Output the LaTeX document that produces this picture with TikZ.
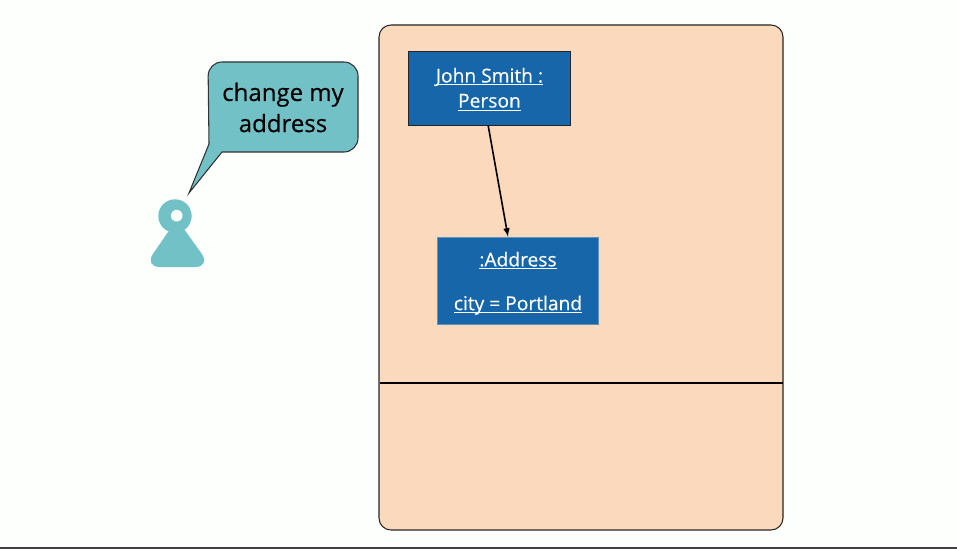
\documentclass[tikz,border=0pt]{standalone}
\usepackage{fontspec}
\setmainfont{Open Sans}
\newfontfamily\heavyfont[FakeBold=0.35]{Open Sans}
\newcommand{\ulabel}[1]{\leavevmode\setbox0\hbox{#1}\rlap{\rule[-2.2pt]{\wd0}{0.7pt}}\box0}
\usetikzlibrary{positioning}
\definecolor{paper}{HTML}{FCFFFB}
\definecolor{panelfill}{HTML}{FBD9BC}
\definecolor{objfill}{HTML}{1666A9}
\definecolor{tealfill}{HTML}{72C1C6}
\begin{document}
\begin{tikzpicture}[x=0.75pt, y=-0.75pt,
                obj/.style={fill=objfill, anchor=center},
                objtext/.style={text=white, align=center, font=\heavyfont\fontsize{14.4}{18.8}\selectfont},
                panel/.style={draw=black!85, fill=panelfill, rounded corners=9pt, line width=0.8pt, minimum width=303pt, minimum height=378.75pt},
                arr/.style={-latex, line width=1.2pt, black}]
                \useasboundingbox (0,0) rectangle (957,549);
                \fill[paper] (0,0) rectangle (957,549);
                \fill[black!75] (0,547) rectangle (957,549);

                % Panel
                \node[panel] (store) at (581,277.5) {};
                \coordinate (cutL) at (380,383);
                \coordinate (cutR) at (783,383);
                \draw[line width=1.1pt, black] (cutL) -- (cutR);

                % Objects
                \node[obj, draw=black!85, line width=0.7pt, minimum width=122pt, minimum height=55.5pt,
                      label={[name=johnlbl, objtext, yshift=-0.9pt]center:\ulabel{John Smith :}\\\ulabel{Person}}] (john) at (489.5,88) {};
                \node[obj, draw=objfill!70!white, line width=0.4pt, minimum width=121pt, minimum height=65.25pt,
                      label={[name=addrlbl, objtext, yshift=-2.1pt]center:\ulabel{:Address}\\[14pt]\ulabel{city = Portland}}] (addr) at (518,280.5) {};
                \draw[arr] ([xshift=-1pt]john.south) -- ([xshift=-7.5pt]addr.north);

                % Speech bubble
                \draw[fill=tealfill, draw=black!80, line width=0.8pt, rounded corners=10.5pt]
                    (283,62) -- (358,62) -- (358,152) [sharp corners] -- (222,152) -- (189,193) -- (209,144) [rounded corners=10.5pt] -- (208,62) -- cycle;
                \node[font=\heavyfont\fontsize{18}{23.3}\selectfont, align=center, text=black] (say) at (283,107.5) {change my\\address};

                % Person
                \fill[tealfill, rounded corners=12pt] (177,219) -- (211,267) -- (144,267) -- cycle;
                \fill[tealfill] (175,216) circle[radius=16.7];
                \fill[paper] (176.7,215.7) circle[radius=5.8];
            \end{tikzpicture}
\end{document}
